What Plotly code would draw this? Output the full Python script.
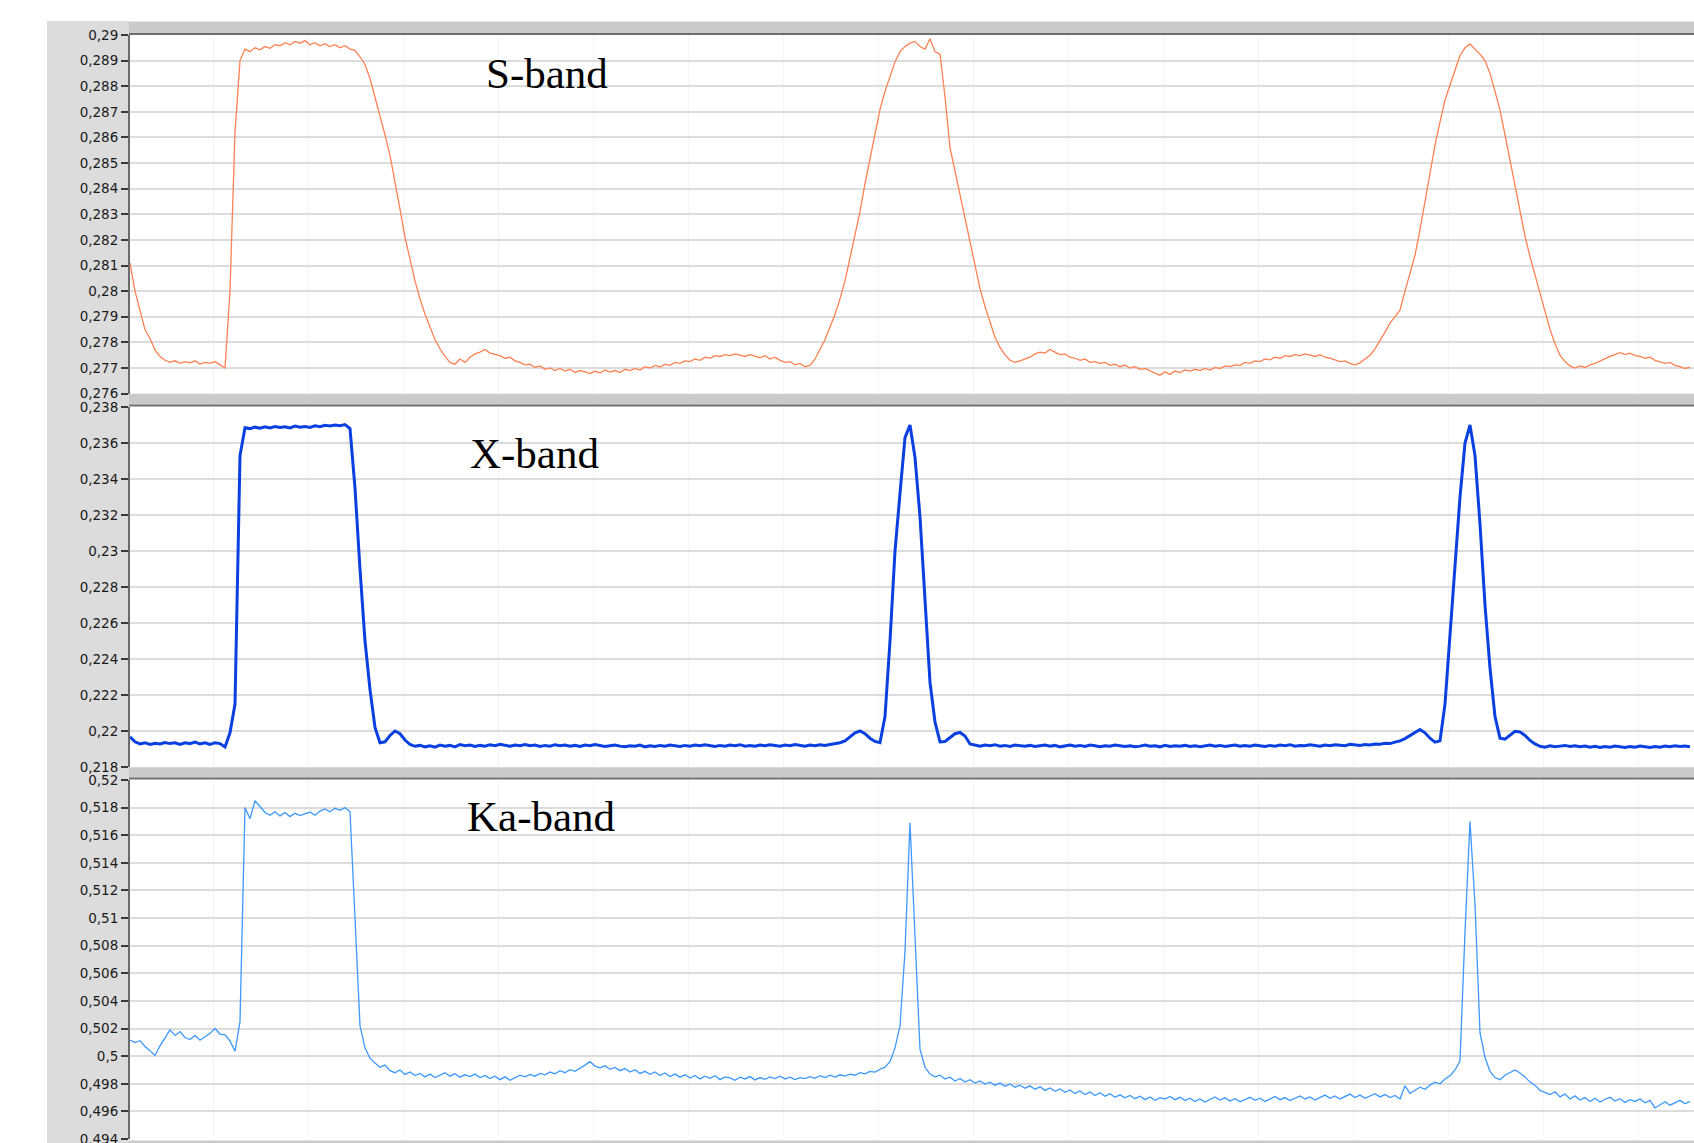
import plotly.graph_objects as go

# ---------------- data ----------------
sample_step = 5  # samples are 5 px apart on the time axis (arbitrary units)

s_band = [
    0.28110, 0.28000, 0.27925, 0.27850, 0.27815, 0.27770, 0.27745, 0.27730, 0.27722, 0.27728,
    0.27718, 0.27725, 0.27720, 0.27728, 0.27715, 0.27722, 0.27718, 0.27725, 0.27712, 0.27700,
    0.28000, 0.28620, 0.28900, 0.28945, 0.28935, 0.28950, 0.28942, 0.28955, 0.28948, 0.28962,
    0.28958, 0.28970, 0.28962, 0.28975, 0.28968, 0.28978, 0.28962, 0.28970, 0.28958, 0.28966,
    0.28955, 0.28962, 0.28950, 0.28958, 0.28945, 0.28940, 0.28915, 0.28885, 0.28830, 0.28760,
    0.28680, 0.28610, 0.28530, 0.28430, 0.28320, 0.28210, 0.28120, 0.28040, 0.27970, 0.27910,
    0.27860, 0.27810, 0.27775, 0.27745, 0.27722, 0.27715, 0.27735, 0.27722, 0.27742, 0.27755,
    0.27762, 0.27772, 0.27758, 0.27752, 0.27748, 0.27738, 0.27742, 0.27728, 0.27722, 0.27712,
    0.27715, 0.27702, 0.27708, 0.27695, 0.27700, 0.27690, 0.27698, 0.27688, 0.27695, 0.27682,
    0.27690, 0.27685, 0.27678, 0.27688, 0.27680, 0.27692, 0.27684, 0.27690, 0.27682, 0.27695,
    0.27690, 0.27698, 0.27692, 0.27705, 0.27700, 0.27710, 0.27704, 0.27715, 0.27710, 0.27722,
    0.27718, 0.27728, 0.27725, 0.27735, 0.27730, 0.27742, 0.27738, 0.27748, 0.27745, 0.27752,
    0.27748, 0.27755, 0.27750, 0.27745, 0.27752, 0.27745, 0.27740, 0.27748, 0.27735, 0.27742,
    0.27730, 0.27722, 0.27725, 0.27712, 0.27718, 0.27705, 0.27710, 0.27735, 0.27770, 0.27810,
    0.27860, 0.27910, 0.27970, 0.28040, 0.28130, 0.28220, 0.28310, 0.28420, 0.28520, 0.28620,
    0.28710, 0.28780, 0.28840, 0.28895, 0.28935, 0.28955, 0.28968, 0.28975, 0.28955, 0.28945,
    0.28985, 0.28935, 0.28925, 0.28760, 0.28560, 0.28470, 0.28380, 0.28290, 0.28190, 0.28100,
    0.28010, 0.27940, 0.27880, 0.27820, 0.27780, 0.27752, 0.27730, 0.27722, 0.27728, 0.27735,
    0.27742, 0.27755, 0.27762, 0.27758, 0.27772, 0.27762, 0.27752, 0.27755, 0.27742, 0.27738,
    0.27730, 0.27735, 0.27722, 0.27725, 0.27718, 0.27722, 0.27710, 0.27715, 0.27705, 0.27712,
    0.27700, 0.27705, 0.27695, 0.27698, 0.27688, 0.27680, 0.27672, 0.27685, 0.27675, 0.27688,
    0.27682, 0.27692, 0.27688, 0.27695, 0.27690, 0.27698, 0.27692, 0.27702, 0.27698, 0.27708,
    0.27705, 0.27712, 0.27710, 0.27722, 0.27718, 0.27728, 0.27725, 0.27735, 0.27732, 0.27742,
    0.27738, 0.27748, 0.27745, 0.27752, 0.27748, 0.27755, 0.27750, 0.27745, 0.27752, 0.27742,
    0.27738, 0.27732, 0.27725, 0.27728, 0.27718, 0.27712, 0.27720, 0.27735, 0.27750, 0.27775,
    0.27805, 0.27840, 0.27875, 0.27900, 0.27926, 0.28000, 0.28070, 0.28140, 0.28240, 0.28350,
    0.28460, 0.28570, 0.28660, 0.28746, 0.28805, 0.28860, 0.28920, 0.28950, 0.28965, 0.28945,
    0.28925, 0.28900, 0.28850, 0.28780, 0.28707, 0.28610, 0.28512, 0.28410, 0.28305, 0.28215,
    0.28135, 0.28065, 0.27992, 0.27920, 0.27850, 0.27795, 0.27750, 0.27725, 0.27708, 0.27700,
    0.27708, 0.27702, 0.27712, 0.27718, 0.27728, 0.27738, 0.27745, 0.27752, 0.27760, 0.27752,
    0.27758, 0.27748, 0.27745, 0.27738, 0.27742, 0.27730, 0.27725, 0.27718, 0.27722, 0.27710,
    0.27705, 0.27698, 0.27702,
]

x_band = [
    0.21967, 0.21940, 0.21928, 0.21935, 0.21925, 0.21932, 0.21928, 0.21936, 0.21930, 0.21934,
    0.21926, 0.21935, 0.21930, 0.21938, 0.21928, 0.21934, 0.21925, 0.21935, 0.21930, 0.21911,
    0.21990, 0.22150, 0.23530, 0.23685, 0.23680, 0.23688, 0.23682, 0.23690, 0.23684, 0.23692,
    0.23686, 0.23690, 0.23684, 0.23694, 0.23688, 0.23692, 0.23686, 0.23696, 0.23690, 0.23698,
    0.23694, 0.23700, 0.23696, 0.23702, 0.23680, 0.23350, 0.22900, 0.22500, 0.22230, 0.22020,
    0.21935, 0.21940, 0.21975, 0.22000, 0.21985, 0.21950, 0.21925, 0.21915, 0.21920, 0.21912,
    0.21918, 0.21910, 0.21922, 0.21915, 0.21920, 0.21912, 0.21925, 0.21918, 0.21922, 0.21914,
    0.21920, 0.21915, 0.21924, 0.21918, 0.21926, 0.21920, 0.21915, 0.21922, 0.21918, 0.21925,
    0.21918, 0.21922, 0.21914, 0.21920, 0.21916, 0.21924, 0.21918, 0.21922, 0.21915, 0.21920,
    0.21914, 0.21922, 0.21918, 0.21925, 0.21920, 0.21914, 0.21918, 0.21922, 0.21916, 0.21912,
    0.21918, 0.21915, 0.21922, 0.21912, 0.21918, 0.21914, 0.21920, 0.21916, 0.21922, 0.21918,
    0.21914, 0.21920, 0.21916, 0.21922, 0.21918, 0.21924, 0.21918, 0.21914, 0.21920, 0.21916,
    0.21922, 0.21918, 0.21924, 0.21916, 0.21920, 0.21915, 0.21922, 0.21918, 0.21924, 0.21920,
    0.21916, 0.21922, 0.21918, 0.21925, 0.21920, 0.21915, 0.21922, 0.21918, 0.21924, 0.21920,
    0.21925, 0.21930, 0.21935, 0.21945, 0.21965, 0.21990, 0.22000, 0.21985, 0.21960, 0.21942,
    0.21935, 0.22080, 0.22500, 0.23000, 0.23320, 0.23630, 0.23700, 0.23520, 0.23190, 0.22700,
    0.22270, 0.22050, 0.21940, 0.21942, 0.21962, 0.21985, 0.21992, 0.21972, 0.21928, 0.21920,
    0.21915, 0.21922, 0.21918, 0.21924, 0.21916, 0.21920, 0.21914, 0.21922, 0.21918, 0.21915,
    0.21920, 0.21914, 0.21918, 0.21922, 0.21915, 0.21920, 0.21912, 0.21918, 0.21922, 0.21916,
    0.21920, 0.21914, 0.21922, 0.21918, 0.21912, 0.21918, 0.21915, 0.21922, 0.21918, 0.21914,
    0.21918, 0.21912, 0.21916, 0.21922, 0.21915, 0.21918, 0.21912, 0.21920, 0.21914, 0.21918,
    0.21915, 0.21920, 0.21914, 0.21918, 0.21912, 0.21916, 0.21922, 0.21916, 0.21920, 0.21914,
    0.21918, 0.21922, 0.21915, 0.21920, 0.21916, 0.21922, 0.21918, 0.21914, 0.21920, 0.21916,
    0.21922, 0.21918, 0.21924, 0.21916, 0.21920, 0.21918, 0.21924, 0.21920, 0.21916, 0.21922,
    0.21918, 0.21924, 0.21920, 0.21918, 0.21926, 0.21922, 0.21920, 0.21925, 0.21922, 0.21928,
    0.21926, 0.21932, 0.21930, 0.21938, 0.21945, 0.21958, 0.21975, 0.21995, 0.22008, 0.21990,
    0.21960, 0.21938, 0.21945, 0.22150, 0.22550, 0.22940, 0.23300, 0.23600, 0.23700, 0.23530,
    0.23150, 0.22700, 0.22350, 0.22080, 0.21960, 0.21955, 0.21978, 0.21998, 0.21995, 0.21975,
    0.21948, 0.21928, 0.21915, 0.21910, 0.21918, 0.21912, 0.21916, 0.21920, 0.21914, 0.21918,
    0.21912, 0.21916, 0.21910, 0.21915, 0.21908, 0.21914, 0.21910, 0.21916, 0.21912, 0.21908,
    0.21914, 0.21910, 0.21916, 0.21912, 0.21908, 0.21914, 0.21910, 0.21916, 0.21912, 0.21918,
    0.21914, 0.21916, 0.21912,
]

ka_band = [
    0.50116, 0.50098, 0.50112, 0.50070, 0.50040, 0.50005, 0.50075, 0.50130, 0.50190, 0.50150,
    0.50178, 0.50135, 0.50120, 0.50150, 0.50115, 0.50140, 0.50165, 0.50200, 0.50160, 0.50155,
    0.50110, 0.50035, 0.50250, 0.51800, 0.51720, 0.51850, 0.51810, 0.51765, 0.51745, 0.51770,
    0.51740, 0.51765, 0.51735, 0.51760, 0.51742, 0.51755, 0.51768, 0.51745, 0.51775, 0.51790,
    0.51770, 0.51795, 0.51780, 0.51800, 0.51770, 0.51000, 0.50220, 0.50060, 0.49985, 0.49950,
    0.49920, 0.49935, 0.49895, 0.49880, 0.49900, 0.49868, 0.49885, 0.49860, 0.49875, 0.49850,
    0.49870, 0.49845, 0.49862, 0.49880, 0.49855, 0.49872, 0.49848, 0.49865, 0.49852, 0.49870,
    0.49845, 0.49860, 0.49838, 0.49855, 0.49830, 0.49850, 0.49825, 0.49845, 0.49862, 0.49850,
    0.49868, 0.49855, 0.49875, 0.49865, 0.49885, 0.49872, 0.49895, 0.49880, 0.49902, 0.49890,
    0.49910, 0.49935, 0.49960, 0.49928, 0.49915, 0.49930, 0.49905, 0.49918, 0.49895, 0.49910,
    0.49885, 0.49902, 0.49875, 0.49890, 0.49868, 0.49885, 0.49860, 0.49878, 0.49852, 0.49870,
    0.49848, 0.49865, 0.49842, 0.49860, 0.49835, 0.49855, 0.49840, 0.49858, 0.49830, 0.49850,
    0.49842, 0.49825, 0.49848, 0.49835, 0.49852, 0.49828, 0.49845, 0.49832, 0.49850, 0.49838,
    0.49855, 0.49835, 0.49848, 0.49830, 0.49845, 0.49838, 0.49852, 0.49840, 0.49858, 0.49845,
    0.49862, 0.49848, 0.49865, 0.49855, 0.49870, 0.49862, 0.49880, 0.49872, 0.49890, 0.49885,
    0.49905, 0.49920, 0.49960, 0.50060, 0.50220, 0.50760, 0.51690, 0.50850, 0.50050, 0.49920,
    0.49870, 0.49850, 0.49862, 0.49835, 0.49848, 0.49820, 0.49838, 0.49812, 0.49830, 0.49805,
    0.49820, 0.49798, 0.49812, 0.49790, 0.49805, 0.49782, 0.49798, 0.49775, 0.49790, 0.49768,
    0.49785, 0.49760, 0.49778, 0.49752, 0.49770, 0.49745, 0.49762, 0.49738, 0.49755, 0.49730,
    0.49748, 0.49722, 0.49740, 0.49715, 0.49735, 0.49710, 0.49728, 0.49702, 0.49720, 0.49698,
    0.49715, 0.49692, 0.49710, 0.49685, 0.49705, 0.49680, 0.49700, 0.49690, 0.49708, 0.49685,
    0.49702, 0.49678, 0.49695, 0.49672, 0.49690, 0.49668, 0.49688, 0.49705, 0.49682, 0.49698,
    0.49675, 0.49692, 0.49670, 0.49688, 0.49702, 0.49680, 0.49695, 0.49672, 0.49690, 0.49708,
    0.49685, 0.49700, 0.49678, 0.49695, 0.49712, 0.49690, 0.49705, 0.49682, 0.49700, 0.49718,
    0.49695, 0.49712, 0.49690, 0.49708, 0.49725, 0.49700, 0.49718, 0.49695, 0.49712, 0.49728,
    0.49705, 0.49722, 0.49700, 0.49715, 0.49690, 0.49785, 0.49730, 0.49752, 0.49775, 0.49760,
    0.49790, 0.49812, 0.49800, 0.49835, 0.49858, 0.49900, 0.49965, 0.50900, 0.51700, 0.51100,
    0.50170, 0.49990, 0.49890, 0.49845, 0.49830, 0.49862, 0.49880, 0.49900, 0.49878, 0.49850,
    0.49812, 0.49790, 0.49752, 0.49735, 0.49722, 0.49742, 0.49705, 0.49725, 0.49690, 0.49712,
    0.49682, 0.49700, 0.49672, 0.49695, 0.49668, 0.49688, 0.49702, 0.49675, 0.49692, 0.49665,
    0.49685, 0.49672, 0.49690, 0.49662, 0.49680, 0.49625, 0.49650, 0.49670, 0.49645, 0.49665,
    0.49680, 0.49655, 0.49672,
]

s_ticks = [0.276, 0.277, 0.278, 0.279, 0.280, 0.281, 0.282, 0.283, 0.284,
           0.285, 0.286, 0.287, 0.288, 0.289, 0.290]
s_ticktext = ["0,276", "0,277", "0,278", "0,279", "0,28", "0,281", "0,282", "0,283", "0,284",
              "0,285", "0,286", "0,287", "0,288", "0,289", "0,29"]
x_ticks = [0.218, 0.220, 0.222, 0.224, 0.226, 0.228, 0.230, 0.232, 0.234, 0.236, 0.238]
x_ticktext = ["0,218", "0,22", "0,222", "0,224", "0,226", "0,228", "0,23", "0,232",
              "0,234", "0,236", "0,238"]
ka_ticks = [0.494, 0.496, 0.498, 0.500, 0.502, 0.504, 0.506, 0.508, 0.510,
            0.512, 0.514, 0.516, 0.518, 0.520]
ka_ticktext = ["0,494", "0,496", "0,498", "0,5", "0,502", "0,504", "0,506", "0,508", "0,51",
               "0,512", "0,514", "0,516", "0,518", "0,52"]

band_names = ["S-band", "X-band", "Ka-band"]

# ---------------- layout helpers (pixel geometry) ----------------
W, H = 1694, 1143


def fx(p):
    return p / W


def fy(p):
    return 1 - p / H


t = [i * sample_step for i in range(len(s_band))]

fig = go.Figure()
fig.add_trace(go.Scatter(x=t, y=s_band, mode="lines", xaxis="x", yaxis="y",
                         line=dict(color="#ff8052", width=1.3), showlegend=False))
fig.add_trace(go.Scatter(x=t, y=x_band, mode="lines", xaxis="x2", yaxis="y2",
                         line=dict(color="#0a40e0", width=3), showlegend=False))
fig.add_trace(go.Scatter(x=t, y=ka_band, mode="lines", xaxis="x3", yaxis="y3",
                         line=dict(color="#3d98ff", width=1.3), showlegend=False))

xdom = [fx(130), 1.0]
xcommon = dict(domain=xdom, range=[0, 1564], showticklabels=False, ticks="",
               showgrid=True, gridcolor="#f4f4f4", gridwidth=1, tick0=83.5, dtick=95,
               zeroline=False, showline=False, fixedrange=True)
ycommon = dict(ticks="outside", ticklen=7, tickwidth=1.5, tickcolor="#3a3a3a",
               showline=True, linecolor="#6a6a6a", linewidth=2,
               showgrid=True, gridcolor="#dcdcdc", gridwidth=2, zeroline=False,
               tickfont=dict(family="DejaVu Sans", size=13.5, color="#1a1a1a"),
               ticklabeloverflow="allow", fixedrange=True)

fig.update_layout(
    width=W, height=H, margin=dict(l=0, r=0, t=0, b=0, autoexpand=False),
    paper_bgcolor="white", plot_bgcolor="white",
    xaxis=dict(anchor="y", **xcommon),
    xaxis2=dict(anchor="y2", **xcommon),
    xaxis3=dict(anchor="y3", **xcommon),
    yaxis=dict(anchor="x", domain=[fy(393.6), fy(35)], range=[0.276, 0.29],
               tickvals=s_ticks, ticktext=s_ticktext, **ycommon),
    yaxis2=dict(anchor="x2", domain=[fy(767), fy(407)], range=[0.218, 0.238],
                tickvals=x_ticks, ticktext=x_ticktext, **ycommon),
    yaxis3=dict(anchor="x3", domain=[fy(1139), fy(780)], range=[0.494, 0.52],
                tickvals=ka_ticks, ticktext=ka_ticktext, **ycommon),
)

shapes = []
# gray strip behind the tick labels
shapes.append(dict(type="rect", xref="paper", yref="paper", layer="below",
                   x0=fx(47), x1=fx(129), y0=0, y1=fy(21),
                   fillcolor="#dcdcdc", line=dict(width=0)))
# gray separator bars with dark lower edge
for top, bot in [(21.5, 33), (393.8, 404.5), (767.3, 777.5)]:
    shapes.append(dict(type="rect", xref="paper", yref="paper", layer="above",
                       x0=fx(129), x1=1.0, y0=fy(bot), y1=fy(top),
                       fillcolor="#cacaca", line=dict(width=0)))
    shapes.append(dict(type="rect", xref="paper", yref="paper", layer="above",
                       x0=fx(129), x1=1.0, y0=fy(bot + 2), y1=fy(bot),
                       fillcolor="#6e6e6e", line=dict(width=0)))
shapes.append(dict(type="rect", xref="paper", yref="paper", layer="above",
                   x0=fx(129), x1=1.0, y0=0, y1=fy(1140.5),
                   fillcolor="#cacaca", line=dict(width=0)))
fig.update_layout(shapes=shapes)

label_pos = [(484, 73), (468, 453), (465, 816)]
for name, (lx, ly) in zip(band_names, label_pos):
    fig.add_annotation(text=name, x=fx(lx), y=fy(ly), xref="paper", yref="paper",
                       xanchor="left", yanchor="middle", showarrow=False,
                       font=dict(family="Liberation Serif", size=43, color="black"))

fig.write_html("out.html")
